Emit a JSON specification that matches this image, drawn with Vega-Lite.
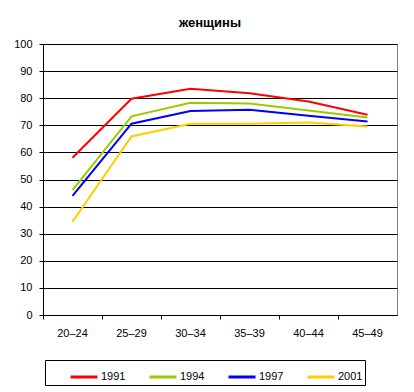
{
  "$schema": "https://vega.github.io/schema/vega-lite/v6.json",
  "autosize": "none",
  "width": 354,
  "height": 271,
  "padding": {"left": 43, "top": 44, "right": 17, "bottom": 77},
  "background": "white",
  "title": {"text": "женщины", "font": "Liberation Sans", "fontSize": 13, "fontWeight": "bold", "color": "black", "anchor": "middle", "dx": -10, "offset": 8},
  "config": {
    "view": {"stroke": "#808080", "strokeWidth": 1},
    "font": "Liberation Sans"
  },
  "data": {"values": [
    {"age": "20–24", "year": "1991", "v": 58.0},
    {"age": "25–29", "year": "1991", "v": 79.8},
    {"age": "30–34", "year": "1991", "v": 83.5},
    {"age": "35–39", "year": "1991", "v": 81.8},
    {"age": "40–44", "year": "1991", "v": 78.8},
    {"age": "45–49", "year": "1991", "v": 73.9},
    {"age": "20–24", "year": "1994", "v": 46.1},
    {"age": "25–29", "year": "1994", "v": 73.3},
    {"age": "30–34", "year": "1994", "v": 78.3},
    {"age": "35–39", "year": "1994", "v": 78.0},
    {"age": "40–44", "year": "1994", "v": 75.5},
    {"age": "45–49", "year": "1994", "v": 72.9},
    {"age": "20–24", "year": "1997", "v": 44.0},
    {"age": "25–29", "year": "1997", "v": 70.6},
    {"age": "30–34", "year": "1997", "v": 75.3},
    {"age": "35–39", "year": "1997", "v": 75.7},
    {"age": "40–44", "year": "1997", "v": 73.5},
    {"age": "45–49", "year": "1997", "v": 71.4},
    {"age": "20–24", "year": "2001", "v": 34.4},
    {"age": "25–29", "year": "2001", "v": 65.9},
    {"age": "30–34", "year": "2001", "v": 70.6},
    {"age": "35–39", "year": "2001", "v": 70.6},
    {"age": "40–44", "year": "2001", "v": 71.0},
    {"age": "45–49", "year": "2001", "v": 69.6}
  ]},
  "mark": {"type": "line", "strokeWidth": 2},
  "encoding": {
    "x": {
      "field": "age", "type": "ordinal", "sort": null,
      "scale": {"type": "band", "paddingInner": 0, "paddingOuter": 0},
      "axis": {"title": null, "labelAngle": 0, "bandPosition": 0, "labelFontSize": 11, "labelColor": "black", "labelPadding": 8, "tickSize": 4, "tickColor": "black", "domainColor": "black", "labelAlign": "center", "grid": false}
    },
    "y": {
      "field": "v", "type": "quantitative",
      "scale": {"domain": [0, 100], "nice": false},
      "axis": {"title": null, "values": [0,10,20,30,40,50,60,70,80,90,100], "labelFontSize": 11, "labelColor": "black", "labelPadding": 7, "tickSize": 4, "tickColor": "black", "domainColor": "black", "gridColor": "black", "gridOpacity": 1, "grid": true}
    },
    "color": {
      "field": "year", "type": "nominal",
      "scale": {"domain": ["1991", "1994", "1997", "2001"], "range": ["#FF0000", "#99CC00", "#0000FF", "#FFCC00"]},
      "legend": {
        "title": null,
        "orient": "none", "legendX": 2, "legendY": 316,
        "direction": "horizontal", "columns": 4,
        "symbolType": "stroke", "symbolSize": 729, "symbolStrokeWidth": 3,
        "symbolOffset": 22,
        "labelFontSize": 11, "labelColor": "black", "labelOffset": 2, "labelLimit": 30,
        "columnPadding": 0, "padding": 2,
        "strokeColor": "black", "fillColor": "white"
      }
    }
  }
}
